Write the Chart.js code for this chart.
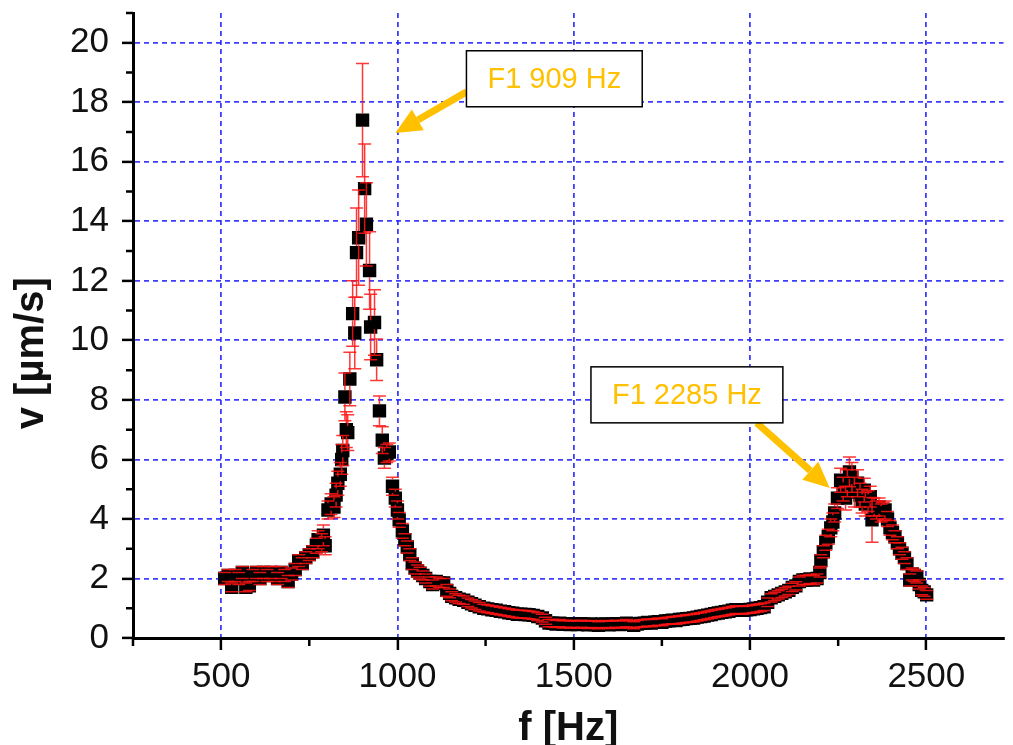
<!DOCTYPE html>
<html>
<head>
<meta charset="utf-8">
<title>v(f)</title>
<script src="https://cdn.jsdelivr.net/npm/chart.js@4.4.0/dist/chart.umd.min.js"></script>
<style>
  html, body { margin: 0; padding: 0; background: #fff; }
  #wrap { width: 1013px; height: 745px; position: relative; }
</style>
</head>
<body>
<div id="wrap"><canvas id="resChart"></canvas></div>
<script>
// measured frequency sweep: f [Hz], v [um/s] and its error
const freqHz = [
  510, 520, 530, 540, 550, 560, 570, 580, 590, 600,
  610, 620, 630, 640, 650, 660, 670, 680, 690, 700,
  710, 720, 730, 740, 750, 760, 770, 775, 785, 790,
  795, 803, 812, 820, 826, 831, 838, 842, 845, 851,
  855, 859, 865, 873, 879, 884, 890, 901, 907, 912,
  921, 924, 935, 941, 949, 957, 963, 970, 977, 986,
  994, 1000, 1005, 1014, 1021, 1028, 1035, 1042, 1050, 1057,
  1064, 1072, 1080, 1092, 1100, 1110, 1120, 1131, 1140, 1148,
  1154, 1165, 1175, 1188, 1200, 1210, 1220, 1232, 1245, 1256,
  1268, 1280, 1292, 1304, 1316, 1327, 1340, 1350, 1362, 1373,
  1385, 1398, 1411, 1420, 1430, 1440, 1450, 1460, 1470, 1480,
  1490, 1500, 1510, 1520, 1530, 1540, 1550, 1560, 1570, 1580,
  1590, 1600, 1610, 1620, 1630, 1640, 1650, 1660, 1670, 1680,
  1690, 1700, 1710, 1720, 1730, 1740, 1750, 1760, 1770, 1780,
  1790, 1800, 1810, 1820, 1830, 1840, 1850, 1860, 1870, 1880,
  1890, 1900, 1910, 1920, 1930, 1940, 1950, 1960, 1970, 1980,
  1990, 2000, 2010, 2020, 2030, 2040, 2050, 2060, 2070, 2080,
  2090, 2100, 2110, 2120, 2130, 2140, 2150, 2160, 2170, 2180,
  2190, 2198, 2201, 2208, 2215, 2222, 2229, 2235, 2240, 2248,
  2257, 2264, 2271, 2276, 2282, 2289, 2296, 2305, 2312, 2318,
  2324, 2327, 2335, 2341, 2346, 2352, 2359, 2366, 2372, 2378,
  2383, 2390, 2397, 2404, 2411, 2418, 2424, 2431, 2438, 2445,
  2453, 2460, 2466, 2473, 2480, 2487, 2494, 2501
];
const velocity = [
  2.0, 2.1, 1.7, 2.1, 2.0, 2.2, 1.7, 1.75, 2.1, 2.2,
  2.0, 2.2, 2.1, 2.2, 2.15, 2.0, 2.2, 2.1, 1.9, 2.15,
  2.3, 2.6, 2.5, 2.7, 2.8, 2.9, 3.1, 3.3, 3.2, 3.45,
  3.1, 4.3, 4.5, 4.4, 4.8, 5.2, 5.5, 6.0, 6.3, 8.1,
  7.0, 6.9, 8.7, 10.9, 10.25, 12.95, 13.45, 17.4, 15.1, 13.9,
  12.35, 10.45, 10.6, 9.35, 7.63, 6.65, 6.05, 6.2, 6.25, 5.1,
  4.7, 4.3, 3.97, 3.6, 3.3, 3.06, 2.8, 2.5, 2.35, 2.25,
  2.18, 2.1, 2.0, 1.9, 1.8, 1.9, 1.85, 1.85, 1.6, 1.5,
  1.4, 1.35, 1.3, 1.27, 1.2, 1.15, 1.1, 1.05, 1.0, 0.98,
  0.95, 0.93, 0.9, 0.88, 0.85, 0.83, 0.8, 0.8, 0.79, 0.78,
  0.76, 0.72, 0.67, 0.58, 0.5, 0.5, 0.47, 0.5, 0.46, 0.48,
  0.45, 0.47, 0.45, 0.48, 0.46, 0.44, 0.47, 0.45, 0.43, 0.46,
  0.47, 0.44, 0.46, 0.48, 0.45, 0.47, 0.5, 0.46, 0.43, 0.47,
  0.49, 0.5, 0.52, 0.5, 0.53, 0.55, 0.53, 0.57, 0.58, 0.6,
  0.59, 0.62, 0.63, 0.65, 0.66, 0.67, 0.7, 0.72, 0.74, 0.77,
  0.79, 0.82, 0.84, 0.86, 0.88, 0.9, 0.93, 0.95, 0.94, 0.93,
  0.95, 0.96, 0.98, 1.0, 1.02, 1.05, 1.2, 1.35, 1.4, 1.45,
  1.5, 1.55, 1.6, 1.7, 1.75, 1.9, 1.95, 1.95, 1.98, 1.95,
  2.0, 2.2, 2.6, 2.9, 3.2, 3.4, 3.7, 3.9, 4.2, 4.7,
  5.3, 5.0, 4.7, 5.2, 5.58, 5.4, 4.9, 5.2, 4.8, 4.6,
  4.97, 4.5, 4.6, 4.75, 3.97, 4.4, 4.3, 4.4, 4.2, 4.25,
  4.3, 4.0, 3.7, 3.55, 3.4, 3.2, 3.0, 2.85, 2.7, 2.5,
  1.95, 2.15, 2.1, 2.05, 1.8, 1.6, 1.55, 1.45
];
const velocityErr = [
  0.2, 0.2, 0.15, 0.2, 0.2, 0.2, 0.15, 0.15, 0.2, 0.2,
  0.2, 0.2, 0.2, 0.2, 0.25, 0.2, 0.2, 0.2, 0.2, 0.2,
  0.2, 0.2, 0.2, 0.2, 0.2, 0.2, 0.25, 0.3, 0.3, 0.35,
  0.3, 0.3, 0.35, 0.35, 0.4, 0.4, 0.4, 0.5, 0.5, 0.8,
  0.6, 0.6, 0.9, 1.1, 1.2, 1.5, 1.6, 1.9, 1.5, 1.4,
  1.3, 1.1, 1.1, 0.7, 0.5, 0.45, 0.35, 0.3, 0.3, 0.3,
  0.3, 0.3, 0.25, 0.25, 0.2, 0.2, 0.2, 0.2, 0.2, 0.2,
  0.2, 0.15, 0.15, 0.15, 0.15, 0.15, 0.15, 0.15, 0.2, 0.15,
  0.15, 0.14, 0.14, 0.14, 0.14, 0.14, 0.14, 0.14, 0.13, 0.13,
  0.13, 0.13, 0.13, 0.13, 0.13, 0.13, 0.13, 0.13, 0.13, 0.13,
  0.13, 0.13, 0.13, 0.12, 0.12, 0.12, 0.12, 0.12, 0.12, 0.12,
  0.12, 0.12, 0.12, 0.12, 0.12, 0.12, 0.12, 0.12, 0.12, 0.12,
  0.12, 0.12, 0.12, 0.12, 0.12, 0.12, 0.12, 0.12, 0.12, 0.12,
  0.12, 0.12, 0.12, 0.12, 0.12, 0.12, 0.12, 0.12, 0.12, 0.12,
  0.13, 0.13, 0.13, 0.13, 0.13, 0.13, 0.13, 0.13, 0.13, 0.13,
  0.13, 0.13, 0.13, 0.13, 0.13, 0.13, 0.13, 0.13, 0.13, 0.13,
  0.13, 0.13, 0.13, 0.13, 0.13, 0.13, 0.14, 0.14, 0.14, 0.14,
  0.14, 0.14, 0.14, 0.14, 0.14, 0.15, 0.15, 0.15, 0.15, 0.15,
  0.15, 0.15, 0.2, 0.2, 0.25, 0.25, 0.3, 0.3, 0.3, 0.35,
  0.4, 0.4, 0.4, 0.45, 0.5, 0.5, 0.5, 0.45, 0.4, 0.4,
  0.4, 0.4, 0.35, 0.35, 0.75, 0.3, 0.3, 0.3, 0.3, 0.3,
  0.3, 0.25, 0.25, 0.25, 0.2, 0.2, 0.2, 0.2, 0.2, 0.2,
  0.2, 0.2, 0.2, 0.2, 0.15, 0.15, 0.15, 0.15
];

// axis ticks
const xTicks = [500, 1000, 1500, 2000, 2500];
const xMinorTicks = [250, 750, 1250, 1750, 2250];
const yTicks = [0, 2, 4, 6, 8, 10, 12, 14, 16, 18, 20];
const yMinorTicks = [1, 3, 5, 7, 9, 11, 13, 15, 17, 19, 21];

// callouts for the two resonances
const noteLabels = ['F1 909 Hz', 'F1 2285 Hz'];

const FONT = "'Liberation Sans', Arial, sans-serif";
const SQUARE = 13.4;
const GRID_BLUE = 'rgba(40, 40, 255, 0.9)';

// box centre, arrow tail and arrow tip, all in axis units
const notes = [
  { text: noteLabels[0], box: [1445, 18.79], tail: [1196, 18.35], tip: [994, 16.97] },
  { text: noteLabels[1], box: [1821, 8.17], tail: [2019, 7.23], tip: [2226, 5.04] }
];

const points = freqHz.map((f, i) => ({ x: f, y: velocity[i] }));

// red vertical error bars with caps, drawn over the squares
const errorBars = {
  id: 'errorBars',
  afterDatasetsDraw(chart) {
    const ctx = chart.ctx;
    const x = chart.scales.x, y = chart.scales.y;
    const half = SQUARE / 2;
    ctx.save();
    ctx.strokeStyle = 'rgba(255, 20, 20, 0.85)';
    ctx.lineWidth = 1.5;
    for (let i = 0; i < freqHz.length; i++) {
      const px = x.getPixelForValue(freqHz[i]);
      const mid = y.getPixelForValue(velocity[i]);
      const top = y.getPixelForValue(velocity[i] + velocityErr[i]);
      const bot = y.getPixelForValue(velocity[i] - velocityErr[i]);
      ctx.beginPath();
      if (top < mid - half) {
        ctx.moveTo(px, top); ctx.lineTo(px, mid - half);
        ctx.moveTo(px, mid + half); ctx.lineTo(px, bot);
      }
      ctx.moveTo(px - 6.5, top); ctx.lineTo(px + 6.5, top);
      ctx.moveTo(px - 6.5, bot); ctx.lineTo(px + 6.5, bot);
      ctx.stroke();
    }
    ctx.restore();
  }
};

// short minor tick marks between the labelled ones
const minorTicks = {
  id: 'minorTicks',
  afterDraw(chart) {
    const ctx = chart.ctx;
    const area = chart.chartArea;
    const x = chart.scales.x, y = chart.scales.y;
    ctx.save();
    ctx.strokeStyle = '#000';
    ctx.lineWidth = 2.5;
    ctx.beginPath();
    xMinorTicks.forEach(v => {
      const px = x.getPixelForValue(v);
      ctx.moveTo(px, area.bottom); ctx.lineTo(px, area.bottom + 8);
    });
    yMinorTicks.forEach(v => {
      const py = y.getPixelForValue(v);
      ctx.moveTo(area.left, py); ctx.lineTo(area.left - 7, py);
    });
    ctx.stroke();
    ctx.restore();
  }
};

// boxed labels with thick orange arrows
const callouts = {
  id: 'callouts',
  afterDraw(chart) {
    const ctx = chart.ctx;
    const x = chart.scales.x, y = chart.scales.y;
    const orange = '#ffc000';
    ctx.save();
    notes.forEach(n => {
      const tx = x.getPixelForValue(n.tail[0]), ty = y.getPixelForValue(n.tail[1]);
      const hx = x.getPixelForValue(n.tip[0]), hy = y.getPixelForValue(n.tip[1]);
      const ang = Math.atan2(hy - ty, hx - tx);
      const headLen = 26, headW = 12;
      const bx = hx - Math.cos(ang) * headLen, by = hy - Math.sin(ang) * headLen;

      ctx.strokeStyle = orange;
      ctx.lineWidth = 7;
      ctx.beginPath();
      ctx.moveTo(tx, ty); ctx.lineTo(bx, by);
      ctx.stroke();

      ctx.fillStyle = orange;
      ctx.beginPath();
      ctx.moveTo(hx, hy);
      ctx.lineTo(bx + Math.sin(ang) * headW, by - Math.cos(ang) * headW);
      ctx.lineTo(bx - Math.sin(ang) * headW, by + Math.cos(ang) * headW);
      ctx.closePath();
      ctx.fill();

      // label box
      ctx.font = '29px ' + FONT;
      const w = ctx.measureText(n.text).width + 42;
      const h = 56;
      const cx = x.getPixelForValue(n.box[0]), cy = y.getPixelForValue(n.box[1]);
      ctx.fillStyle = '#fff';
      ctx.fillRect(cx - w / 2, cy - h / 2, w, h);
      ctx.strokeStyle = '#000';
      ctx.lineWidth = 1.5;
      ctx.strokeRect(cx - w / 2, cy - h / 2, w, h);
      ctx.fillStyle = orange;
      ctx.textAlign = 'center';
      ctx.textBaseline = 'middle';
      ctx.fillText(n.text, cx, cy + 1);
    });
    ctx.restore();
  }
};

new Chart(document.getElementById('resChart'), {
  type: 'scatter',
  data: {
    datasets: [{
      label: 'v',
      data: points,
      pointStyle: 'rect',
      pointRadius: SQUARE / 2 / Math.SQRT1_2,
      pointHoverRadius: SQUARE / 2 / Math.SQRT1_2,
      backgroundColor: '#000',
      borderColor: '#000',
      borderWidth: 0,
      showLine: false
    }]
  },
  options: {
    responsive: true,
    maintainAspectRatio: false,
    animation: false,
    layout: { padding: { top: 13, left: 0, right: 0, bottom: 0 } },
    plugins: {
      legend: { display: false },
      tooltip: { enabled: false }
    },
    scales: {
      x: {
        type: 'linear',
        min: 250,
        max: 2719,
        afterBuildTicks: s => { s.ticks = xTicks.map(v => ({ value: v })); },
        afterFit: s => { s.height = 107; s.paddingLeft = 0; s.paddingRight = 0; },
        grid: {
          color: GRID_BLUE,
          lineWidth: 1.8,
          tickColor: '#000',
          tickLength: 12,
          tickWidth: 2.5
        },
        border: { color: '#000', width: 3, dash: [5, 4] },
        ticks: {
          color: '#111',
          padding: 6,
          font: { family: FONT, size: 35 },
          callback: v => String(v)
        },
        title: {
          display: true,
          text: 'f [Hz]',
          color: '#111',
          font: { family: FONT, size: 40, weight: 'bold', lineHeight: 0.8 },
          padding: { top: 0, bottom: 0 }
        }
      },
      y: {
        type: 'linear',
        min: 0,
        max: 21,
        afterBuildTicks: s => { s.ticks = yTicks.map(v => ({ value: v })); },
        afterFit: s => { s.width = 133; s.paddingTop = 0; s.paddingBottom = 0; },
        grid: {
          color: GRID_BLUE,
          lineWidth: 1.8,
          tickColor: '#000',
          tickLength: 11,
          tickWidth: 2.5
        },
        border: { color: '#000', width: 3, dash: [5, 4] },
        ticks: {
          color: '#111',
          padding: 13,
          font: { family: FONT, size: 35 },
          callback: v => String(v)
        },
        title: {
          display: true,
          // trailing blanks push the rotated title a little below centre
          text: 'v [µm/s]\u00a0\u00a0\u00a0\u00a0\u00a0',
          color: '#111',
          font: { family: FONT, size: 40, weight: 'bold', lineHeight: 1.2 },
          padding: { top: 8, bottom: 0 }
        }
      }
    }
  },
  plugins: [errorBars, minorTicks, callouts]
});
</script>
</body>
</html>
